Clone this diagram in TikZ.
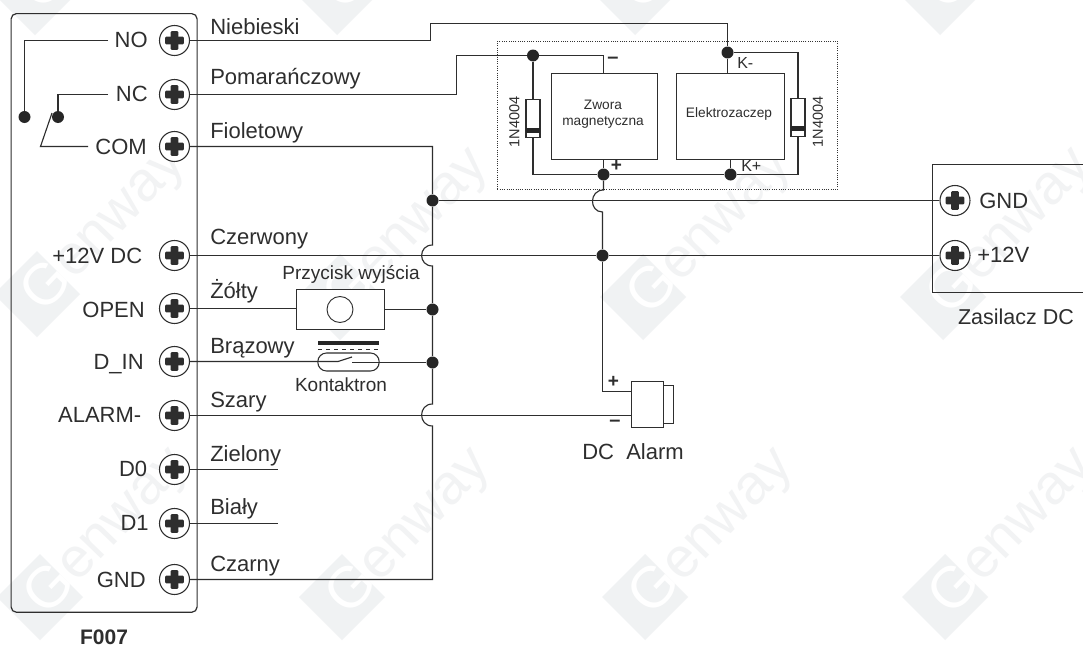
\documentclass[tikz,border=0pt]{standalone}
\usepackage{fontspec}
\setmainfont{Liberation Sans}
\newcommand{\fpx}[1]{\fontsize{\dimexpr#1pt*3/4\relax}{\dimexpr#1pt*9/10\relax}\selectfont}
\definecolor{ink}{HTML}{2E2E2E}
\definecolor{wm}{HTML}{F0F2F3}
\definecolor{wmt}{HTML}{F2F3F4}
\newcommand{\wmark}[2]{%
  \begin{scope}[shift={(#1,#2)}]
    \fill[wm] (-43,0) -- (0,-43) -- (43,0) -- (0,43) -- cycle;
    \node[rotate=46,text=white,inner sep=0pt] at (8,-10) {\fpx{58}G};
    \node[rotate=46,text=wmt,inner sep=0pt,anchor=base west] at (37,-13) {\fpx{56}enway};
  \end{scope}}
\tikzset{
  wire/.style={draw=ink,line width=0.85pt},
  term/.style={circle,draw=ink,line width=0.8pt,minimum size=22.5pt,inner sep=0pt,fill=white,
    path picture={\fill[ink,rounded corners=0.8pt]
      ([xshift=-2.9pt,yshift=-7pt]path picture bounding box.center) rectangle ([xshift=2.9pt,yshift=7pt]path picture bounding box.center);
      \fill[ink,rounded corners=0.8pt]
      ([xshift=-7pt,yshift=-2.9pt]path picture bounding box.center) rectangle ([xshift=7pt,yshift=2.9pt]path picture bounding box.center);}},
  jdot/.style={circle,fill=black!85,inner sep=0pt,minimum size=9pt},
  lab/.style={inner sep=0pt,anchor=base west,text=ink,font=\fpx{22}},
  pin/.style={inner sep=0pt,anchor=base east,text=ink,font=\fpx{22}},
  mid/.style={inner sep=0pt,text=ink,font=\fpx{19}},
  small/.style={inner sep=0pt,text=ink,font=\fpx{13.7}},
  block/.style={draw=ink,line width=0.85pt,fill=white,inner sep=0pt},
}
\begin{document}
\begin{tikzpicture}[x=0.75pt,y=-0.75pt]
\useasboundingbox (0,0) rectangle (1083,646);
\fill[white] (0,0) rectangle (1083,646);
% watermarks
\begin{scope}
\clip (0,0) rectangle (1083,646);
\foreach \wx/\wy in {35/-8,337/-8,635/-8,940/-8,37/294,340/297,643/297,943/297,40/597,342/597,645/597,945/597}{\wmark{\wx}{\wy}}
\end{scope}
% controller box
\node[draw=ink,line width=0.9pt,rounded corners=4pt,minimum width=139.5pt,minimum height=449pt,inner sep=0pt,anchor=north west] (ctrl) at (10.5,13) {};
% power supply outline
\coordinate (psTL) at (932.5,164.5);
\coordinate (psBL) at (932.5,292.5);
\coordinate (psTR) at (1083,164.5);
\coordinate (psBR) at (1083,292.5);
\draw[wire] (psTR) -- (psTL) -- (psBL) -- (psBR);
% terminals
\foreach \n/\y in {tNO/40.5,tNC/94.5,tCOM/146.5,tV/255.5,tOPEN/308.5,tDIN/361.5,tAL/415.5,tDz/469.5,tDj/523.5,tGND/579.5}{
  \node[term] (\n) at (174.5,\y) {};}
\node[term] (pGND) at (955,200.5) {};
\node[term] (pV) at (955,255.5) {};
% pin labels
\node[pin] (lNO) at (148,47.5) {NO};
\node[pin] (lNC) at (148,101) {NC};
\node[pin] (lCOM) at (147,154) {COM};
\node[pin] (lV) at (142.5,263) {+12V DC};
\node[pin] (lOPEN) at (145,317) {OPEN};
\node[pin] (lDIN) at (144,369.5) {D\_IN};
\node[pin] (lAL) at (141.5,422) {ALARM-};
\node[pin] (lDz) at (147.5,476) {D0};
\node[pin] (lDj) at (149,530) {D1};
\node[pin] (lG) at (146,587) {GND};
% wire labels
\node[lab] (wa) at (210,34) {Niebieski};
\node[lab] (wb) at (210,84) {Pomarańczowy};
\node[lab] (wc) at (210,138) {Fioletowy};
\node[lab] (wd) at (210,244) {Czerwony};
\node[lab] (we) at (210,298) {Żółty};
\node[lab] (wf) at (210,353) {Brązowy};
\node[lab] (wg) at (210,407) {Szary};
\node[lab] (wh) at (210,461) {Zielony};
\node[lab] (wi) at (210,514) {Biały};
\node[lab] (wj) at (210,571) {Czarny};
\node[inner sep=0pt,text=ink,font=\fpx{21}\bfseries] (f7) at (104,637) {F007};
% relay
\node[jdot] (rNO) at (24.5,117) {};
\node[jdot] (rNC) at (58,117) {};
\coordinate (rNOs) at (108,40.5);
\coordinate (rNCs) at (108,94.5);
\coordinate (rCs) at (88,146.5);
\coordinate (rCk) at (40.5,146.5);
\coordinate (rCe) at (52,113);
\draw[wire] (rNOs) -| (rNO);
\draw[wire] (rNCs) -| (rNC);
\draw[wire] (rCs) -- (rCk) -- (rCe);
% dotted module
\node[draw=black!80,densely dotted,line width=0.7pt,inner sep=0pt,minimum width=255pt,minimum height=111pt,anchor=north west] (mod) at (497,41) {};
% loads
\node[block,minimum width=79.5pt,minimum height=64.5pt,anchor=north west] (zw) at (550.5,72.5) {};
\node[small,align=center] (zwt) at (603,114) {Zwora\\magnetyczna};
\node[block,minimum width=81pt,minimum height=64.5pt,anchor=north west] (el) at (675.5,72.5) {};
\node[small] (elt) at (729,114) {Elektrozaczep};
% diodes
\node[block,minimum width=10.5pt,minimum height=29pt] (d1) at (533,118.5) {};
\fill[black!85] (526,128) rectangle (540,132.5);
\node[block,minimum width=10.5pt,minimum height=29pt] (d2) at (798,117.5) {};
\fill[black!85] (791,126) rectangle (805,130.5);
\node[small,rotate=90,font=\fpx{14.5}] (d1t) at (514.5,122) {1N4004};
\node[small,rotate=90,font=\fpx{14.5}] (d2t) at (818,122) {1N4004};
% dots
\node[jdot] (j1) at (533,55.5) {};
\node[jdot] (j2) at (727.5,52.5) {};
\node[jdot] (j3) at (603.5,174.5) {};
\node[jdot] (j4) at (730.5,174.5) {};
\node[jdot] (j5) at (432.5,200.5) {};
\node[jdot] (j6) at (602.5,255.5) {};
\node[jdot] (j7) at (432.5,309.5) {};
\node[jdot] (j8) at (432.5,362.5) {};
% module labels
\node[inner sep=0pt,text=ink,font=\fpx{20}\bfseries] (mm) at (613,60.5) {–};
\node[inner sep=0pt,text=ink,font=\fpx{19}\bfseries] (mp) at (616.5,166) {+};
\node[inner sep=0pt,text=ink,font=\fpx{16},anchor=west] (km) at (737,63) {K-};
\node[inner sep=0pt,text=ink,font=\fpx{16},anchor=west] (kp) at (741,166) {K+};
% NO wire
\coordinate (a1) at (430.5,40.5);
\coordinate (a2) at (430.5,23.5);
\coordinate (a3) at (727.5,23.5);
\draw[wire] (tNO) -- (a1) -- (a2) -- (a3) -- (j2);
\draw[wire] (j2) -- (el.north -| j2);
\coordinate (a4) at (798,52.5);
\draw[wire] (j2) -- (a4) -- (d2);
% NC wire
\coordinate (b1) at (456.5,94.5);
\coordinate (b2) at (456.5,55.5);
\coordinate (b3) at (603.5,55.5);
\draw[wire] (tNC) -- (b1) -- (b2) -- (j1) -- (b3) -- (b3 |- zw.north);
\draw[wire] (j1) -- (d1);
% bottom rail of module
\coordinate (c1) at (533,174.5);
\coordinate (c2) at (798,174.5);
\draw[wire] (d1) -- (c1) -- (j3) -- (j4) -- (c2) -- (d2);
\draw[wire] (j3) -- (j3 |- zw.south);
\draw[wire] (j4) -- (j4 |- el.south);
% common negative
\coordinate (v1) at (432.5,146.5);
\coordinate (v2) at (432.5,245);
\coordinate (v3) at (432.5,266);
\coordinate (v4) at (432.5,404);
\coordinate (v5) at (432.5,426);
\coordinate (v6) at (432.5,579.5);
\draw[wire] (tCOM) -- (v1) -- (j5) -- (v2) .. controls (418,245) and (418,266) .. (v3) -- (j7) -- (j8) -- (v4) .. controls (418,404) and (418,426) .. (v5) -- (v6) -- (tGND);
\draw[wire] (j5) -- (pGND);
\draw[wire] (tV) -- (j6) -- (pV);
% positive drop
\coordinate (e1) at (603.5,190);
\coordinate (e2) at (602.5,212);
\draw[wire] (j3) -- (e1) .. controls (589,190) and (589,212) .. (e2) -- (j6);
% button
\node[block,minimum width=65.5pt,minimum height=30pt] (btn) at (340.5,309.5) {};
\node[circle,draw=ink,line width=0.7pt,minimum size=19.5pt,inner sep=0pt] (btnc) at (340,309.5) {};
\node[mid] (btnt) at (351,274) {Przycisk wyjścia};
\draw[wire] (tOPEN) -- (btn.west |- tOPEN);
\draw[wire] (btn.east |- j7) -- (j7);
% reed
\node[draw=ink,line width=0.8pt,rounded corners=6.5pt,minimum width=46pt,minimum height=13.5pt,inner sep=0pt] (reed) at (348.5,362) {};
\fill[black!85] (318,341) rectangle (379,345);
\draw[ink,line width=0.6pt,dashed] (318,349) -- (379,349);
\coordinate (r1) at (338,361.5);
\coordinate (r2) at (352,357);
\coordinate (r3) at (352,362.5);
\draw[wire] (tDIN) -- (r1) -- (r2);
\draw[wire] (r3) -- (j8);
\node[mid] (reedt) at (341,385) {Kontaktron};
% short wires
\coordinate (z1) at (278,469.5);
\coordinate (z2) at (278,523.5);
\draw[wire] (tDz) -- (z1);
\draw[wire] (tDj) -- (z2);
% alarm
\node[block,minimum width=24pt,minimum height=34.5pt,anchor=north west] (alb) at (630.5,380.5) {};
\node[block,minimum width=7.5pt,minimum height=28.5pt,anchor=north west] (alc) at (662.5,384.5) {};
\coordinate (f1) at (602.5,391.5);
\draw[wire] (j6) -- (f1) -- (alb.west |- f1);
\coordinate (g1) at (630.5,415.5);
\draw[wire] (tAL) -- (g1);
\node[inner sep=0pt,text=ink,font=\fpx{19}\bfseries] (ap) at (613.5,382) {+};
\node[inner sep=0pt,text=ink,font=\fpx{20}\bfseries] (am) at (615,423) {–};
\node[inner sep=0pt,text=ink,font=\fpx{22}] (alt) at (633,452) {DC\ \ Alarm};
% PSU labels
\node[lab] (pg) at (979,208) {GND};
\node[lab] (pv) at (977,262.5) {+12V};
\node[inner sep=0pt,text=ink,font=\fpx{21.5}] (pst) at (1016,317) {Zasilacz DC};
\end{tikzpicture}
\end{document}
